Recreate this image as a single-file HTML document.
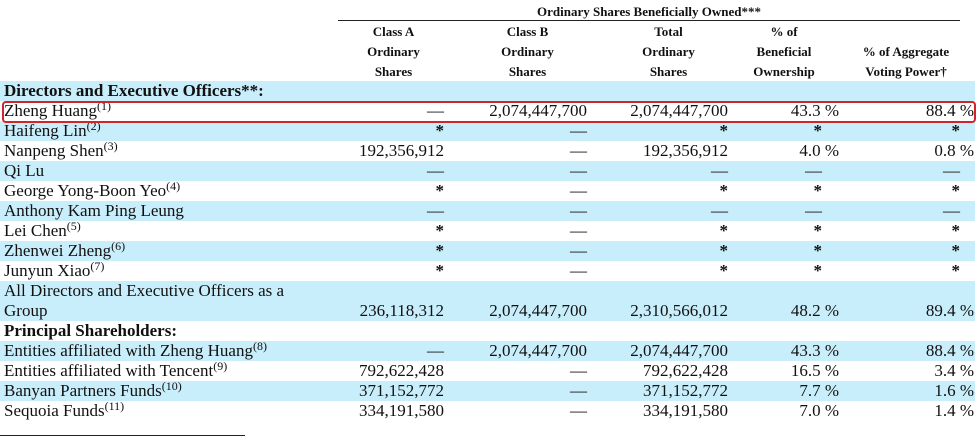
<!DOCTYPE html>
<html><head><meta charset="utf-8">
<style>
body{margin:0;width:978px;height:437px;background:#fff;position:relative;overflow:hidden;font-family:"Liberation Serif",serif;color:#111}
.h{position:absolute;font-weight:bold;font-size:13px;text-align:center;line-height:20px}
.rule{position:absolute;height:1px;background:#222}
.row{position:absolute;left:0;width:975px;height:20px;font-size:17px;line-height:20px}
.blue{background:#c9eefb}
.lab{position:absolute;left:4px;white-space:nowrap}
.c{position:absolute;white-space:nowrap;text-align:right}
.star{font-weight:bold}
sup{font-size:12px;vertical-align:6px;line-height:0}
.bold{font-weight:bold}
</style></head><body>
<div class="h" style="left:338px;width:622px;top:2px">Ordinary Shares Beneficially Owned***</div>
<div class="rule" style="left:338px;width:622px;top:20px"></div>
<div class="h" style="left:338px;width:111px;top:22px">Class A<br>Ordinary<br>Shares</div>
<div class="h" style="left:465px;width:125px;top:22px">Class B<br>Ordinary<br>Shares</div>
<div class="h" style="left:607px;width:123px;top:22px">Total<br>Ordinary<br>Shares</div>
<div class="h" style="left:748px;width:72px;top:22px">% of<br>Beneficial<br>Ownership</div>
<div class="h" style="left:852px;width:108px;top:22px"><br>% of Aggregate<br>Voting Power†</div>
<div class="rule" style="left:338px;width:111px;top:81px"></div>
<div class="rule" style="left:465px;width:125px;top:81px"></div>
<div class="rule" style="left:607px;width:123px;top:81px"></div>
<div class="rule" style="left:748px;width:72px;top:81px"></div>
<div class="rule" style="left:852px;width:108px;top:81px"></div>
<div id="tbl"></div>
<div style="position:absolute;left:2px;top:101px;width:970px;height:18px;border:2px solid #d0252b;border-radius:4px"></div>
<div class="rule" style="left:0;width:245px;top:435px"></div>
<script>
const names=["Directors and Executive Officers**:","Zheng Huang","Haifeng Lin","Nanpeng Shen","Qi Lu","George Yong-Boon Yeo","Anthony Kam Ping Leung","Lei Chen","Zhenwei Zheng","Junyun Xiao","All Directors and Executive Officers as a<br>Group","Principal Shareholders:","Entities affiliated with Zheng Huang","Entities affiliated with Tencent","Banyan Partners Funds","Sequoia Funds"];
const notes=["","1","2","3","","4","","5","6","7","","","8","9","10","11"];
const classA=["","—","*","192,356,912","—","*","—","*","*","*","236,118,312","","—","792,622,428","371,152,772","334,191,580"];
const classB=["","2,074,447,700","—","—","—","—","—","—","—","—","2,074,447,700","","2,074,447,700","—","—","—"];
const total=["","2,074,447,700","*","192,356,912","—","*","—","*","*","*","2,310,566,012","","2,074,447,700","792,622,428","371,152,772","334,191,580"];
const benef=["","43.3 %","*","4.0 %","—","*","—","*","*","*","48.2 %","","43.3 %","16.5 %","7.7 %","7.0 %"];
const voting=["","88.4 %","*","0.8 %","—","*","—","*","*","*","89.4 %","","88.4 %","3.4 %","1.6 %","1.4 %"];
const blue=[1,0,1,0,1,0,1,0,1,0,1,0,1,0,1,0];
const tbl=document.getElementById('tbl');
let y=81;
function cell(row,txt,right,name){
  const c=document.createElement('div');
  c.className='c'+(txt==='*'?' star':'');
  
  
  c.style.right=(975-right)+'px';
  c.style.bottom='0';
  c.textContent=txt;
  row.appendChild(c);
}
const rightsNum=[444,587,728,839,974];
const rightsSym=[444,587,728,822,960];
const cols=[classA,classB,total,benef,voting];
const colNames=['class-a','class-b','total','beneficial','voting'];
for(let i=0;i<names.length;i++){
  const h=(i===10)?40:20;
  const r=document.createElement('div');
  r.className='row'+(blue[i]?' blue':'');
  
  
  r.style.top=y+'px';r.style.height=h+'px';
  const l=document.createElement('div');
  l.className='lab'+((i===0||i===11)?' bold':'');
  
  
  l.style.top='0';
  l.innerHTML=names[i]+(notes[i]?'<sup>('+notes[i]+')</sup>':'');
  r.appendChild(l);
  for(let k=0;k<5;k++){
    const t=cols[k][i];
    if(!t)continue;
    const sym=(t==='*'||t==='—');
    cell(r,t,sym?rightsSym[k]:rightsNum[k],'cell-'+colNames[k]);
  }
  tbl.appendChild(r);
  y+=h;
}
</script>
</body></html>
